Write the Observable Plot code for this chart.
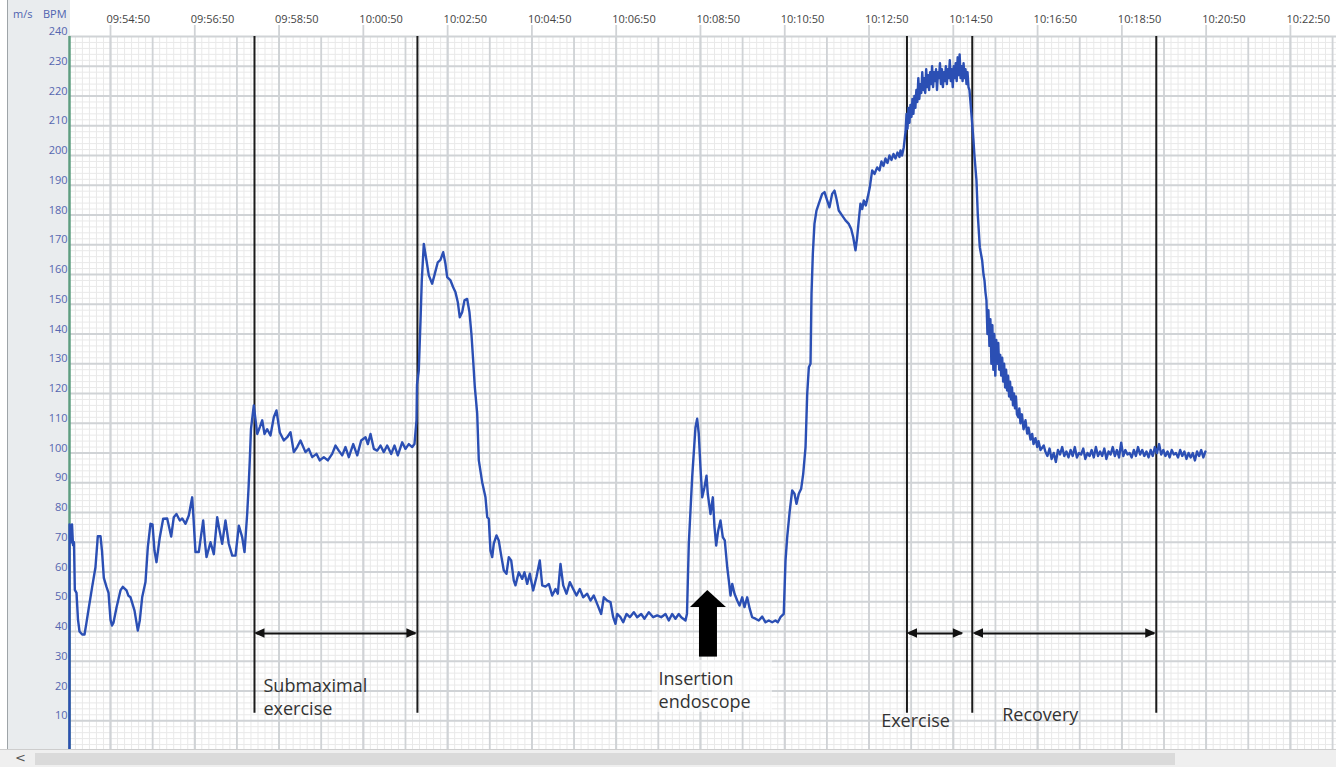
<!DOCTYPE html>
<html>
<head>
<meta charset="utf-8">
<script src="https://cdn.jsdelivr.net/npm/d3@7"></script>
<script src="https://cdn.jsdelivr.net/npm/@observablehq/plot@0.6"></script>
<style>
  html, body { margin: 0; padding: 0; background: #ffffff; }
  #wrap { position: relative; width: 1336px; height: 767px; overflow: hidden; font-family: "Open Sans", sans-serif; }
  #panel { position: absolute; left: 7px; top: 0; width: 62px; height: 767px; background: #e9ecee; border-left: 1px solid #9ea4a8; z-index: 0; }
  #chart { position: absolute; left: 0; top: 0; z-index: 1; }
  .unit { position: absolute; top: 6px; font-size: 11px; color: #4f63b0; z-index: 2; }
  #scroll { position: absolute; left: 0; top: 749px; width: 1336px; height: 18px; background: #efefef; border-top: 1px solid #cdcdcd; z-index: 3; }
  #thumb { position: absolute; left: 35px; top: 3px; width: 1140px; height: 12px; background: #dadada; }
  #larrow { position: absolute; left: 15px; top: 0px; font-size: 13px; color: #555; font-family: "DejaVu Sans", sans-serif; }
</style>
</head>
<body>
<div id="wrap">
  <div id="panel"></div>
  <div class="unit" style="left:13px">m/s</div>
  <div class="unit" style="left:43px">BPM</div>
  <div id="chart"></div>
  <div id="scroll"><div id="thumb"></div><div id="larrow">&lt;</div></div>
</div>
<script>
// ---------- data (elapsed seconds since 09:53:50, heart rate in BPM) ----------
const xTickLabels = ["09:54:50","09:56:50","09:58:50","10:00:50","10:02:50","10:04:50","10:06:50",
  "10:08:50","10:10:50","10:12:50","10:14:50","10:16:50","10:18:50","10:20:50","10:22:50"];
const yTickValues = [10,20,30,40,50,60,70,80,90,100,110,120,130,140,150,160,170,180,190,200,210,220,230,240];

const phaseRest = [
  [1.6,0],[1.7,76],[3.8,70],[5.2,76],[6.6,69],[8.0,70],[9.2,54],[11.6,53],[13.7,44],[15.9,40],
  [19.7,39],[23.0,39],[25.8,43],[29.1,48],[33.9,55],[38.6,61.6],[41.9,72],[45.8,72],[47.9,67],[50.5,58],
  [54.3,55],[57.2,53],[60.0,44],[62.1,42],[64.3,43],[68.5,48],[74.2,53.8],[77.5,55],[82.8,53.8],[85.6,52],
  [88.5,51.5],[94.2,47],[98.9,40.3],[101.7,43.7],[105.1,51.5],[109.8,56.6],[113.1,68.3],[116.9,76.2],[119.8,76],[122.6,67.2],
  [125.5,63.3],[130.2,71.7],[135.0,77.9],[140.7,78],[146.4,71.9],[150.1,78.4],[153.9,79.5],[158.7,77.3],[162.1,78],[166.8,76.2],
  [171.5,79],[176.3,85.1],[178.2,78],[181.0,66.7],[185.7,66.7],[188.8,72],[192.0,77.3],[194.5,70],[196.7,65],[202.4,70],
  [207.1,66],[211.9,78.4],[215.2,74],[219.0,69.5],[223.7,77.3],[228.4,69.5],[233.3,65.5],[238.0,65.5],[242.7,75.6],[247.5,71.7],
  [250.8,66.7],[254.6,79.5],[256.5,88],[258.3,97.5],[260.0,108],[261.5,111],[264.0,116]
];
const phaseSubmax = [
  [268.9,106.4],[272.6,108.7],[276.0,111],[279.3,106.4],[283.1,108],[287.8,105.9],[292.5,112],[296.3,114.3],[301.1,106.9],[306.8,104.2],
  [311.6,105.3],[316.3,107],[321.0,100.3],[325.8,102],[330.5,104.2],[337.6,100.3],[342.3,101.4],[347.2,98.6],[353.3,99.7],[358.0,97.5],
  [363.7,98.6],[369.4,97.5],[375.6,99.7],[380.4,102.5],[385.0,100.8],[389.9,99.2],[394.6,102],[399.3,98.6],[405.6,103],[411.3,99.2],
  [416.9,104.2],[423.1,105.3],[426.4,103],[430.2,106.4],[434.9,101.4],[439.7,100.8],[444.4,102.5],[449.1,100.3],[453.9,102.5],[459.7,99.7],
  [464.4,102.5],[469.1,99.2],[475.3,103.6],[480.0,101.4],[484.7,103],[489.6,102],[492.8,103],[495.7,111]
];
const phasePostSubmax = [
  [496.4,123],[498.9,127.7],[501.4,144.5],[503.2,158],[506.1,170.3],[509.9,164.7],[513.2,159.7],[518.0,156.9],[521.7,160.2],[526.0,164.1],
  [529.8,164.9],[533.7,167.5],[536.9,163.6],[539.4,159.1],[544.1,158],[547.9,155.7],[551.2,154],[554.5,150.7],[557.3,145.6],[560.7,147.3],
  [564.0,151.3],[567.8,151.8],[571.1,147.3],[573.9,140],[576.4,131],[578.7,122.2],[582.1,113.2],
  [584.4,97.5],[589.2,90.2],[593.9,85.1],[596.4,78.4],[598.6,77.9],[601.0,67.2],[603.5,65],[605.7,69.5],[609.6,72.3],[612.8,70.6],
  [616.3,65.5],[620.0,60.5],[623.8,59.4],[627.1,65],[630.5,63.9],[634.2,57.1],[636.6,55.5],[641.3,59.9],[646.2,57.7],[649.4,59.9],
  [653.3,56],[657.0,59.4],[661.8,53.8],[666.5,58.3],[671.2,63.9],[674.7,55.5],[679.3,55.1],[684.1,56],[688.9,52.1],[693.6,54.3],
  [696.9,52.7],[700.7,62.7],[704.6,55.5],[709.3,52.7],[714.0,56.6],[718.8,54.3],[723.5,52.1],[728.2,54.3],[733.0,51.5],[738.7,52.7],
  [743.4,50.4],[748.1,52.1],[752.9,49.3],[758.6,45.9],[762.4,51.5],[767.2,50.4],[771.9,49.9],[775.7,44.8],[779.0,42.6],[781.4,45.9],
  [786.1,44.8],[790.0,43.1],[794.7,45.9],[799.4,44.8],[805.1,46.5],[809.9,44.8],[815.6,45.9],[820.3,44.3],[826.5,46.5],[832.7,44.8],
  [838.4,45.4],[844.1,44.8],[850.2,45.9],[854.9,43.7],[859.7,45.9],[864.4,44.3],[869.1,45.9],[872.6,44.8],[878.7,43.7],[880.8,46]
];
const phaseEndoscopy = [
  [883.4,69.5],[888.2,91.9],[892.9,108.7],[895.3,111.5],[897.6,106.4],[900.0,95.2],[902.5,85.1],[905.7,88.5],[908.6,92.4],[910.4,86.3],
  [914.3,79.5],[917.6,85.1],[920.0,75.1],[922.4,68.9],[925.2,73.9],[928.5,77.3],[931.8,71.7],[934.6,70.6],[938.1,61.6],[940.4,57.1],
  [942.8,52.1],[945.2,56],[948.5,52.7],[952.3,50.4],[955.6,48.7],[959.4,51.5],[962.7,48.2],[966.5,51.5],[970.2,47.6],[973.6,44.8],
  [978.3,44.3],[983.0,43.7],[987.9,45],[992.6,43.1],[997.3,43.7],[1002.1,43.1],[1006.8,43.7],[1010.1,43.1],[1013.9,44.8],[1018.6,45.9],
  [1021.1,63.9],[1023.5,71.7],[1027.2,80.7],[1030.6,87.4],[1033.9,86.3],[1036.7,82.9],[1040.0,86.3],[1043.4,88],[1046.3,93],[1049.6,102],
  [1052.0,119.9],[1054.3,128.8],[1056.7,130],[1058.1,153.5],[1060.0,167],[1062.3,177],[1065.2,181.5],[1068.5,183.8],[1073.3,187.1],[1076.6,187.7],
  [1080.4,184.9],[1083.7,182.6],[1087.5,187.1],[1090.8,188.2],[1093.7,185.4],[1096.9,181.5],[1101.8,179.8],[1106.5,178.2],[1111.2,177],[1114.6,175.3],
  [1117.5,172.5],[1120.7,168.1],[1123.1,172.5],[1125.4,178.2],[1127.8,183.8],[1130.3,182],[1132.5,184.9],[1135.4,183.2],[1138.2,186],[1141.1,189.3],
  [1144.5,195],[1147.8,193.8],[1151.6,196],[1154.9,195],[1157.7,198],[1160.6,196.5],[1163.4,199],[1166.3,197.5],[1169.1,200],[1172.0,198.5],
  [1174.8,200.5],[1177.7,199],[1180.5,201],[1183.4,199.5],[1184.8,201.7],[1187.0,200],[1189.5,202.8]
];
const phaseExercise = [
  [1192,208],[1193.4,214],[1194.8,209],[1196.2,216],[1197.6,211],[1199,217],[1200.4,213],[1201.8,219],[1203.2,214],[1204.6,220],
  [1206,216],[1207.4,222],[1208.8,218],[1210.2,226],[1211.6,219],[1213,224],[1214.4,221],[1215.8,228],[1217.2,222],[1218.6,226],
  [1220,221],[1221.4,229],[1222.8,223],[1224.2,227],[1225.6,222],[1227,228],[1228.4,224],[1229.8,230],[1231.2,223],[1232.6,228],
  [1234,225],[1235.4,229],[1236.8,222],[1238.2,228],[1239.6,226],[1241,231],[1242.4,224],[1243.8,229],[1245.2,223],[1246.6,228],
  [1248,225],[1249.4,230],[1250.8,224],[1252.2,229],[1253.6,226],[1255,232],[1256.4,225],[1257.8,229],[1259.2,223],[1260.6,230],
  [1262,226],[1263.4,231],[1264.8,225],[1266.2,233],[1267.6,227],[1269,234],[1270.4,226],[1271.8,230],[1273.2,225],[1274.6,231],
  [1276,226],[1277.4,229],[1278.8,224],[1280.2,228],[1281.6,223],[1283,222],[1284.4,218],[1285.8,214]
];
const phaseRecovery = [
  [1288.7,205],[1290.1,200],[1293,191.6],[1294.8,180.4],[1297.7,169.2],[1301.1,164.7],[1303,160],[1304.4,158],[1305.8,154],[1307.2,151.3],
  [1308.6,140],[1310,148],[1311.4,136],[1312.8,145],[1314.2,130],[1315.6,143],[1317,128],[1318.4,140],[1319.8,126],[1321.2,138],
  [1322.6,130],[1324,137],[1325.4,128],[1326.8,133],[1328.2,126],[1329.6,132],[1331,124],[1332.4,130],[1333.8,122],[1335.2,128],
  [1336.6,121],[1338,126],[1339.4,119],[1340.8,124],[1342.2,118],[1343.6,122],[1345,116],[1346.4,120],[1347.8,115],[1349.2,119],
  [1350.6,113],[1352.6,112],[1354,115],[1355.6,110],[1357.7,113],[1360,108],[1362.8,111],[1365.2,106.5],[1367.1,108.5],[1369.9,104.5],
  [1372.3,106.4],[1374.2,103],[1377,105],[1379.5,102],[1381.3,104],[1384.1,101],[1388.8,102.5],
  [1391,100.5],[1394,99],[1397,101.5],[1400,98],[1403,100],[1406,97],[1409,101],[1412,99.5],[1415,102],[1418,99],
  [1421,100.5],[1424,98.5],[1427,101],[1430,99],[1433,102],[1436,98.5],[1439,100],[1442,99.5],[1445,101.5],[1448,98],
  [1451,100],[1454,99],[1457,101],[1460,98.5],[1463,102],[1466,99],[1469,100.5],[1472,99],[1475,101.5],[1478,98],
  [1481,100.5],[1484,99.5],[1487,102],[1490,99],[1493,101],[1496,98.5],[1499,103.5],[1502,99],[1505,101],[1508,99.5],
  [1511,100],[1514,98.5],[1517,101],[1520,99],[1523,102],[1526,99.5],[1529,101],[1532,99],[1535,100.5],[1538,98.5],
  [1541,101],[1544,99],[1547,102],[1550,100],[1553,103],[1556,99.5],[1559,101],[1562,99],[1565,100.5],[1568,98.5],
  [1571,101],[1574,99.5],[1577,100],[1580,98.5],[1583,101],[1586,99],[1589,100.5],[1592,98],[1595,100],[1598,98.5],
  [1601,100],[1604,97.5],[1607,100.5],[1610,99],[1613,101],[1616,98.5],[1619,100.5]
];

// phase boundaries (elapsed seconds) and annotated spans
const phaseLineSeconds = [265, 497, 1194, 1287, 1549];
const spanStarts = [265, 1194, 1288];
const spanEnds = [497, 1275, 1549];
const spanLevel = 39.3;
const labelTexts = ["Submaximal\nexercise", "Insertion\nendoscope", "Exercise", "Recovery"];

// ---------- helpers ----------
const base = new Date(2020, 0, 1, 9, 53, 50);
const toDate = s => new Date(base.getTime() + s * 1000);
const fromClock = str => { const [h, m, s] = str.split(":").map(Number); return new Date(2020, 0, 1, h, m, s); };

const heart = [...phaseRest, ...phaseSubmax, ...phasePostSubmax, ...phaseEndoscopy, ...phaseExercise, ...phaseRecovery]
  .map(([s, b]) => ({time: toDate(s), bpm: b}));

const xTicks = xTickLabels.map(fromClock);
const majorX = d3.range(60, 1806, 60).map(toDate);
const minorX = d3.range(10, 1806, 10).map(toDate);
const majorY = d3.range(10, 241, 10);
const minorY = d3.range(2, 241, 2);

// arrowheads for the span arrows (triangles in data space)
const headLen = 15, headHalf = 1.6;
const heads = [];
spanStarts.forEach((s, i) => {
  const e = spanEnds[i];
  heads.push({id: "L" + i, y: spanLevel - headHalf, x1: toDate(s + headLen), x2: toDate(s + headLen)});
  heads.push({id: "L" + i, y: spanLevel, x1: toDate(s), x2: toDate(s + headLen)});
  heads.push({id: "L" + i, y: spanLevel + headHalf, x1: toDate(s + headLen), x2: toDate(s + headLen)});
  heads.push({id: "R" + i, y: spanLevel - headHalf, x1: toDate(e - headLen), x2: toDate(e - headLen)});
  heads.push({id: "R" + i, y: spanLevel, x1: toDate(e - headLen), x2: toDate(e)});
  heads.push({id: "R" + i, y: spanLevel + headHalf, x1: toDate(e - headLen), x2: toDate(e - headLen)});
});
const spans = spanStarts.map((s, i) => ({x1: toDate(s + 3), x2: toDate(spanEnds[i] - 3)}));

// big arrow at endoscope insertion
const bigArrow = {tip: 910.4, tipBpm: 53.8, baseBpm: 48.1, headL: 885.8, headR: 937.0, shaftL: 898.6, shaftR: 924.2, shaftBottom: 31.4};
const bigHead = [
  {x: toDate(bigArrow.headL), y1: bigArrow.baseBpm, y2: bigArrow.baseBpm},
  {x: toDate(bigArrow.tip), y1: bigArrow.baseBpm, y2: bigArrow.tipBpm},
  {x: toDate(bigArrow.headR), y1: bigArrow.baseBpm, y2: bigArrow.baseBpm}
];

const labels = [
  {text: labelTexts[0], s: 277.8, y: 18.3},
  {text: labelTexts[1], s: 840.3, y: 20.7},
  {text: labelTexts[2], s: 1157.3, y: 10.4},
  {text: labelTexts[3], s: 1329.6, y: 12.4}
];

const chart = Plot.plot({
  width: 1336,
  height: 767,
  marginLeft: 69,
  marginRight: 0,
  marginTop: 36,
  marginBottom: 17,
  style: {background: "transparent", fontFamily: "Open Sans, sans-serif"},
  x: {type: "time", domain: [toDate(1.62), toDate(1805.6)], axis: null},
  y: {domain: [0, 240], axis: null},
  marks: [
    Plot.ruleX(minorX, {stroke: "#e9e9e9", strokeWidth: 1}),
    Plot.ruleY(minorY, {stroke: "#e9e9e9", strokeWidth: 1}),
    Plot.ruleX(majorX, {stroke: "#d0d3d6", strokeWidth: 1.8}),
    Plot.ruleY(majorY, {stroke: "#d0d3d6", strokeWidth: 1.8}),
    Plot.ruleX(xTicks, {stroke: "#d0d3d6", strokeWidth: 1.8, insetTop: -11}),
    Plot.rect([0], {x1: toDate(831.7), x2: toDate(1002.6), y1: 12.8, y2: 30.3, fill: "#ffffff", fillOpacity: 0.55}),
    Plot.ruleX([toDate(1.62)], {stroke: "#5e9e80", strokeWidth: 2.5}),
    Plot.ruleX(phaseLineSeconds.map(toDate), {y1: 12.5, y2: 240, stroke: "#1a1a1a", strokeWidth: 2}),
    Plot.line(heart, {x: "time", y: "bpm", stroke: "#2b4fb4", strokeWidth: 2.4, strokeLinejoin: "round"}),
    Plot.link(spans, {x1: "x1", x2: "x2", y1: spanLevel, y2: spanLevel, stroke: "#111", strokeWidth: 2}),
    Plot.areaX(heads, {y: "y", x1: "x1", x2: "x2", z: "id", fill: "#111"}),
    Plot.rect([bigArrow], {x1: d => toDate(d.shaftL), x2: d => toDate(d.shaftR), y1: d => d.shaftBottom, y2: d => d.baseBpm + 0.2, fill: "#000"}),
    Plot.areaY(bigHead, {x: "x", y1: "y1", y2: "y2", fill: "#000"}),
    Plot.text(labels, {x: d => toDate(d.s), y: "y", text: "text", textAnchor: "start", lineAnchor: "middle",
      fontSize: 18, lineHeight: 1.28, fill: "#333", fontFamily: "Open Sans"}),
    Plot.text(xTicks, {x: d => d, text: (d, i) => xTickLabels[i], frameAnchor: "top", dy: -21, dx: -4,
      textAnchor: "start", fontSize: 11, fill: "#444"}),
    Plot.text(yTickValues, {y: d => d, text: d => String(d), frameAnchor: "left", dx: -2, dy: -5,
      textAnchor: "end", fontSize: 11, fill: "#5566b0"})
  ]
});
document.getElementById("chart").appendChild(chart);
</script>
</body>
</html>
